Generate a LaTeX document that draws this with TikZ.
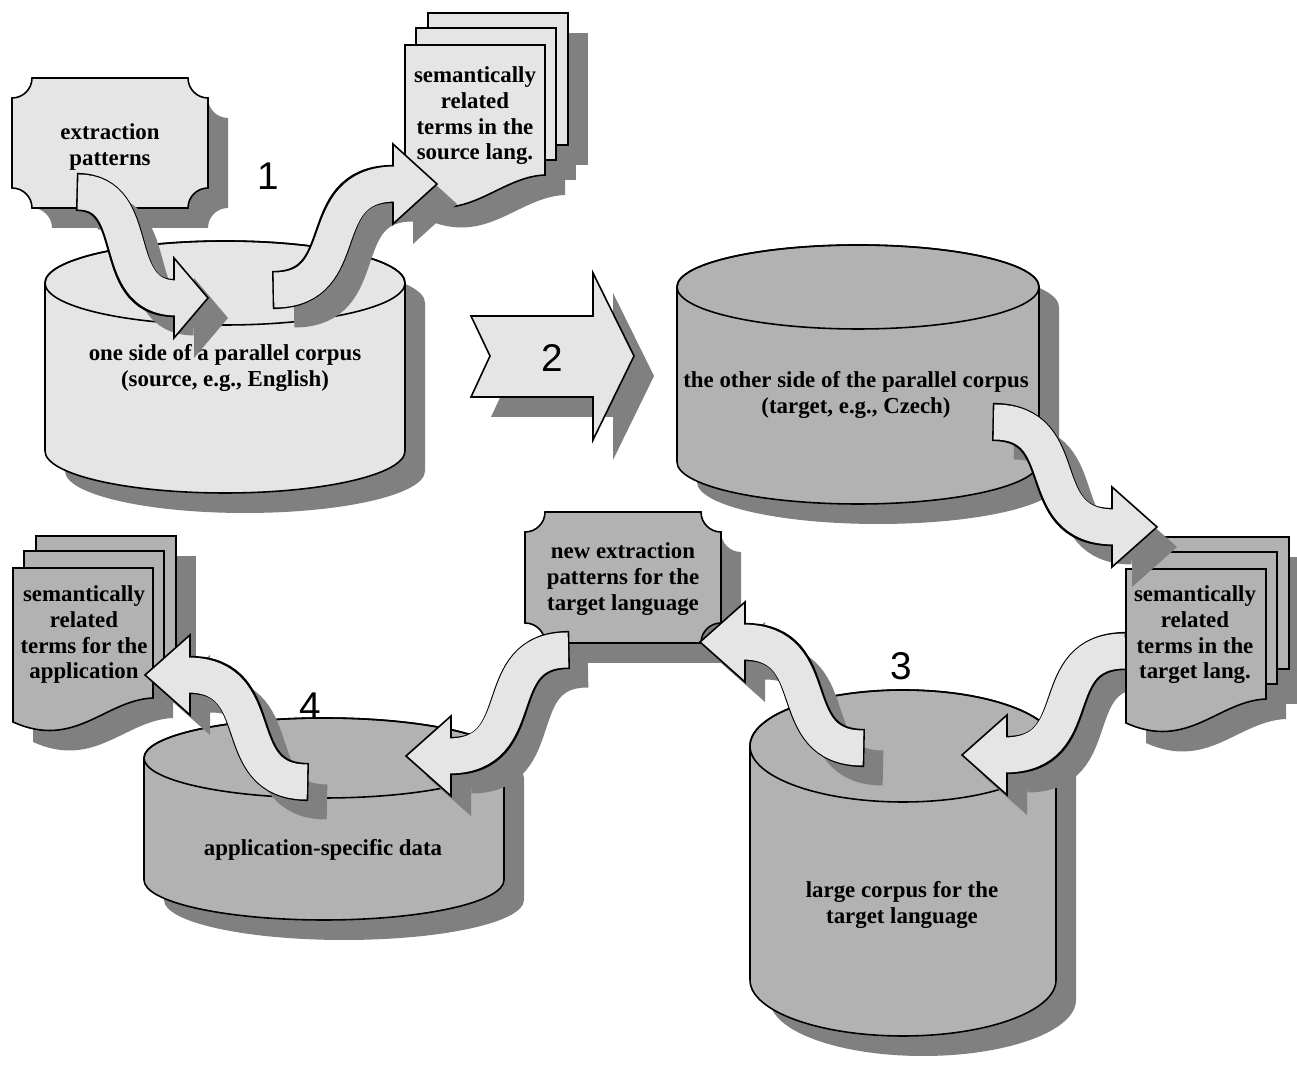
\documentclass[tikz,border=0pt]{standalone}
\usepackage{fontspec}
\setmainfont{Liberation Serif}
\newfontfamily\numfont{Liberation Sans}
\colorlet{pale}{black!10}
\colorlet{midgray}{black!30}
\colorlet{shadowgray}{black!50}
\tikzset{
    outline/.style={draw=black, line width=0.45pt},
    lbl/.style={font=\fontsize{6.5}{7.3}\selectfont\bfseries, align=center, inner sep=0pt},
    stepno/.style={font=\numfont\fontsize{11}{13}\selectfont, inner sep=0pt},
    band/.style={line width=0.35cm},
    dropshadow/.style={transform canvas={shift={(20,20)}}},
}
% cylinder: centre x, top y, bottom y, x radius, y radius, fill
\newcommand{\corpus}[6]{
    \fill[shadowgray, shift={(20,20)}] (#1-#4,#2) -- (#1-#4,#3)
        arc[start angle=180, end angle=0, x radius=#4, y radius=#5] -- (#1+#4,#2)
        arc[start angle=0, end angle=-180, x radius=#4, y radius=#5] -- cycle;
    \filldraw[fill=#6, outline] (#1-#4,#2) -- (#1-#4,#3)
        arc[start angle=180, end angle=0, x radius=#4, y radius=#5] -- (#1+#4,#2)
        arc[start angle=0, end angle=-180, x radius=#4, y radius=#5] -- cycle;
    \draw[outline] (#1,#2) ellipse[x radius=#4, y radius=#5];
}
% card with cut corners: x0, y0, x1, y1, fill
\newcommand{\plaque}[5]{
    \fill[shadowgray, shift={(20,20)}] (#1+20,#2) -- (#3-20,#2) arc[start angle=180, end angle=90, radius=20]
        -- (#3,#4-20) arc[start angle=270, end angle=180, radius=20]
        -- (#1+20,#4) arc[start angle=0, end angle=-90, radius=20]
        -- (#1,#2+20) arc[start angle=90, end angle=0, radius=20] -- cycle;
    \filldraw[fill=#5, outline] (#1+20,#2) -- (#3-20,#2) arc[start angle=180, end angle=90, radius=20]
        -- (#3,#4-20) arc[start angle=270, end angle=180, radius=20]
        -- (#1+20,#4) arc[start angle=0, end angle=-90, radius=20]
        -- (#1,#2+20) arc[start angle=90, end angle=0, radius=20] -- cycle;
}
% three sheets: x0, y0 of the front sheet, fill
\newcommand{\termstack}[3]{
    \begin{scope}[shift={(20,20)}]
        \fill[shadowgray] (#1+23,#2-32) rectangle (#1+163,#2+100);
        \fill[shadowgray] (#1+11,#2-17) rectangle (#1+151,#2+115);
        \fill[shadowgray] (#1,#2) -- (#1+140,#2) -- (#1+140,#2+130)
            .. controls (#1+92,#2+132) and (#1+62,#2+182) .. (#1,#2+154) -- cycle;
    \end{scope}
    \filldraw[fill=#3, outline] (#1+23,#2-32) rectangle (#1+163,#2+100);
    \filldraw[fill=#3, outline] (#1+11,#2-17) rectangle (#1+151,#2+115);
    \filldraw[fill=#3, outline] (#1,#2) -- (#1+140,#2) -- (#1+140,#2+130)
        .. controls (#1+92,#2+132) and (#1+62,#2+182) .. (#1,#2+154) -- cycle;
}
% bent block arrow: tail, head base, control length, head length
\newcommand{\bentarrow}[4]{
    \begin{scope}[dropshadow]
        \draw[band, shadowgray] (#1) .. controls +(#3,0) and +({-(#3)},0) .. (#2);
        \fill[shadowgray] (#2) +(0,-40) -- +(#4,0) -- +(0,40) -- cycle;
    \end{scope}
    \draw[band, line width=0.35cm+0.9pt, shorten <=-0.45pt] (#1) .. controls +(#3,0) and +({-(#3)},0) .. (#2);
    \filldraw[fill=pale, outline] (#2) +(0,-40) -- +(#4,0) -- +(0,40) -- cycle;
    \draw[band, pale, shorten >=-0.8pt] (#1) .. controls +(#3,0) and +({-(#3)},0) .. (#2);
}

\begin{document}
\begin{tikzpicture}[x=0.01cm, y=-0.01cm]
    \useasboundingbox (0,0) rectangle (1297,1074);
    % ends of the bent arrows
    \coordinate (patout) at (78,192);     \coordinate (srcin) at (174,298);
    \coordinate (srcout) at (274,290);    \coordinate (srctin) at (393,184);
    \coordinate (tgtout) at (994,422);    \coordinate (tgttin) at (1112,527);
    \coordinate (tgttout) at (1125,651);  \coordinate (largein) at (1007,755);
    \coordinate (largeout) at (863,748);  \coordinate (newpatin) at (745,642);
    \coordinate (newpatout) at (568,650); \coordinate (appin) at (451,756);
    \coordinate (appout) at (307,782);    \coordinate (apptin) at (190,675);

    % corpora
    \corpus{225}{283}{451}{180}{42}{pale}
    \node[lbl] (src) at (225,368) {one side of a parallel corpus\\(source, e.g., English)};
    \corpus{858}{287}{462}{181}{42}{midgray}
    \node[lbl] (tgt) at (856,395) {the other side of the parallel corpus\\(target, e.g., Czech)};
    \corpus{903}{746}{980}{153}{56}{midgray}
    \node[lbl] (large) at (902,905) {large corpus for the\\target language};
    \corpus{324}{758}{880}{180}{40}{midgray}
    \node[lbl] (app) at (323,850) {application-specific data};

    % patterns
    \plaque{12}{78}{208}{208}{pale}
    \node[lbl] (pat) at (110,147) {extraction\\patterns};
    \plaque{525}{512}{721}{643}{midgray}
    \node[lbl] (newpat) at (623,579) {new extraction\\patterns for the\\target language};

    % term lists
    \termstack{405}{45}{pale}
    \node[lbl] (srcterms) at (475,116) {semantically\\related\\terms in the\\source lang.};
    \termstack{13}{568}{midgray}
    \node[lbl] (appterms) at (84,635) {semantically\\related\\terms for the\\application};

    % step 2
    \fill[shadowgray, shift={(20,20)}] (471,316) -- (593,316) -- (593,273) -- (634,356)
        -- (593,440) -- (593,397) -- (471,397) -- (490,356) -- cycle;
    \filldraw[fill=pale, outline] (471,316) -- (593,316) -- (593,273) -- (634,356)
        -- (593,440) -- (593,397) -- (471,397) -- (490,356) -- cycle;
    \node[stepno] (n2) at (552,358) {2};

    \bentarrow{tgttout}{largein}{-83}{-45}
    \termstack{1126}{569}{midgray}
    \node[lbl] (tgtterms) at (1195,635) {semantically\\related\\terms in the\\target lang.};

    \bentarrow{patout}{srcin}{67}{34}
    \bentarrow{srcout}{srctin}{83}{44}
    \bentarrow{tgtout}{tgttin}{83}{45}
    \bentarrow{largeout}{newpatin}{-83}{-45}
    \bentarrow{newpatout}{appin}{-82}{-45}
    \bentarrow{appout}{apptin}{-82}{-45}

    \node[stepno] (n1) at (268,176) {1};
    \node[stepno] (n3) at (901,666) {3};
    \node[stepno] (n4) at (310,706) {4};
\end{tikzpicture}
\end{document}
